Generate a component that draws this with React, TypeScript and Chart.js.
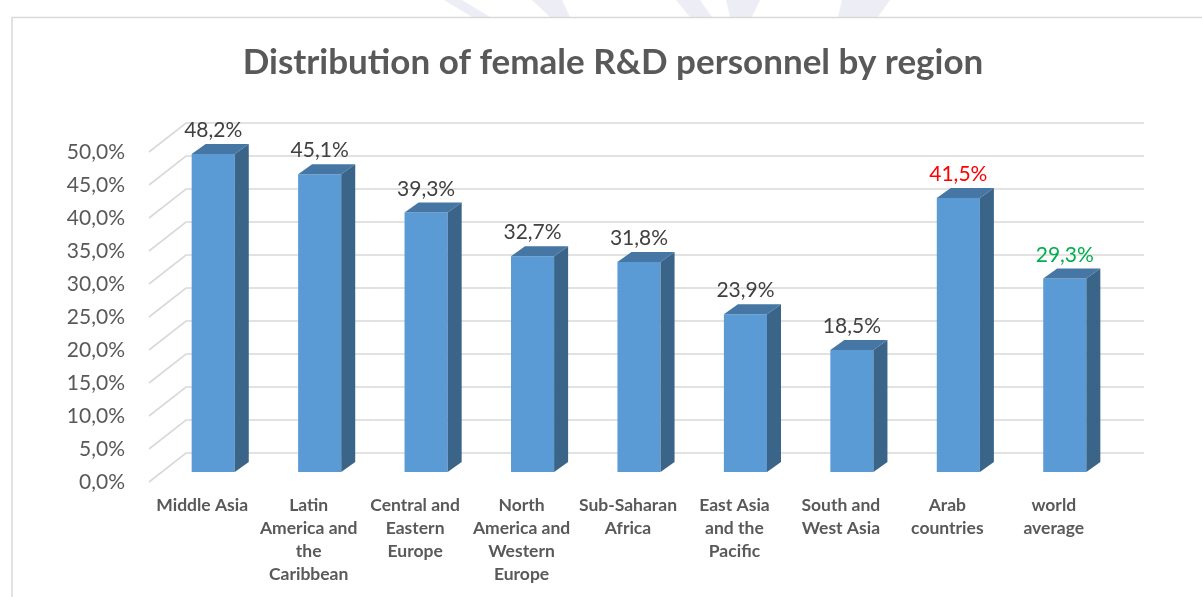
import React, { useEffect, useRef } from "react";
import { Chart, registerables } from "chart.js";

Chart.register(...registerables);

// ---- data ----
const TITLE = "Distribution of female R&D personnel by region";

const regions: string[][] = [
  ["Middle Asia"],
  ["Latin", "America and", "the", "Caribbean"],
  ["Central and", "Eastern", "Europe"],
  ["North", "America and", "Western", "Europe"],
  ["Sub-Saharan", "Africa"],
  ["East Asia", "and the", "Pacific"],
  ["South and", "West Asia"],
  ["Arab", "countries"],
  ["world", "average"],
];

const femaleShare = [48.2, 45.1, 39.3, 32.7, 31.8, 23.9, 18.5, 41.5, 29.3];

const valueLabelColors = [
  "#404040", "#404040", "#404040", "#404040", "#404040",
  "#404040", "#404040", "#FF0000", "#00B050",
];

const axisMin = 0;
const axisMax = 50;
const axisStep = 5;

// ---- look ----
const FONT = "Lato, 'Open Sans', 'DejaVu Sans', sans-serif";
const FRONT = "#5B9BD5";
const TOP = "#4676A3";
const SIDE = "#3A6488";
const GRID = "#d9d9d9";
const TEXT = "#595959";

// projection offsets of the pseudo-3D box
const WALL = { dx: 37, dy: -29 }; // back wall relative to axis plane
const FACE = { dx: 11, dy: -10 }; // bar front faces relative to axis plane
const DEPTH = { dx: 14, dy: -10 }; // bar thickness

const pct = (v: number) => v.toFixed(1).replace(".", ",") + "%";

// faint background emblem strokes above the chart card
const emblem: number[][][] = [
  [[444, 0], [462, 0], [490, 17], [472, 17]],
  [[532, 0], [562, 0], [570, 17], [550, 17]],
  [[676, 0], [700, 0], [712, 17], [690, 17]],
  [[726, 0], [760, 0], [752, 17], [730, 17]],
  [[842, 0], [890, 0], [878, 17], [838, 17]],
];

function poly(ctx: CanvasRenderingContext2D, pts: number[][]) {
  ctx.beginPath();
  ctx.moveTo(pts[0][0], pts[0][1]);
  for (let i = 1; i < pts.length; i++) ctx.lineTo(pts[i][0], pts[i][1]);
  ctx.closePath();
  ctx.fill();
}

const box3d = {
  id: "box3d",
  beforeDraw(chart: any) {
    const { ctx, width, height } = chart;
    ctx.save();
    ctx.fillStyle = "#ffffff";
    ctx.fillRect(0, 0, width, height);
    ctx.fillStyle = "#ededf5";
    emblem.forEach((p) => poly(ctx, p));
    // chart card
    ctx.fillStyle = "#ffffff";
    ctx.fillRect(12, 17.5, width, height);
    ctx.strokeStyle = GRID;
    ctx.lineWidth = 1.5;
    ctx.beginPath();
    ctx.moveTo(12, height + 2);
    ctx.lineTo(12, 17.5);
    ctx.lineTo(width + 2, 17.5);
    ctx.stroke();
    // title
    ctx.fillStyle = TEXT;
    ctx.font = `bold 35px ${FONT}`;
    ctx.textAlign = "center";
    ctx.textBaseline = "alphabetic";
    ctx.fillText(TITLE, 613, 74);
    ctx.restore();
  },
  beforeDatasetsDraw(chart: any) {
    const { ctx, chartArea } = chart;
    const y = chart.scales.y;
    ctx.save();
    ctx.strokeStyle = GRID;
    ctx.lineWidth = 1.6;
    y.ticks.forEach((t: any) => {
      const py = y.getPixelForValue(t.value);
      ctx.beginPath();
      ctx.moveTo(chartArea.left, py);
      ctx.lineTo(chartArea.left + WALL.dx, py + WALL.dy);
      ctx.lineTo(chartArea.right + WALL.dx, py + WALL.dy);
      ctx.stroke();
    });
    ctx.restore();
    // bars sit between the axis plane and the back wall
    ctx.save();
    ctx.translate(FACE.dx, FACE.dy);
  },
  afterDatasetsDraw(chart: any) {
    const { ctx } = chart;
    const meta = chart.getDatasetMeta(0);
    meta.data.forEach((bar: any) => {
      const { x, y, base, width } = bar.getProps(["x", "y", "base", "width"], true);
      const l = x - width / 2;
      const r = x + width / 2;
      ctx.fillStyle = SIDE;
      poly(ctx, [[r, y], [r + DEPTH.dx, y + DEPTH.dy], [r + DEPTH.dx, base + DEPTH.dy], [r, base]]);
      ctx.fillStyle = TOP;
      poly(ctx, [[l, y], [l + DEPTH.dx, y + DEPTH.dy], [r + DEPTH.dx, y + DEPTH.dy], [r, y]]);
    });
    ctx.restore();

    // value labels above each bar
    ctx.save();
    ctx.font = `21px ${FONT}`;
    ctx.textAlign = "center";
    ctx.textBaseline = "alphabetic";
    meta.data.forEach((bar: any, i: number) => {
      const { x, y } = bar.getProps(["x", "y"], true);
      ctx.fillStyle = valueLabelColors[i];
      ctx.fillText(pct(femaleShare[i]), x + FACE.dx, y + FACE.dy + DEPTH.dy - 7);
    });
    ctx.restore();
  },
};

export default function App() {
  const canvasRef = useRef<HTMLCanvasElement | null>(null);

  useEffect(() => {
    if (!canvasRef.current) return;
    const chart = new Chart(canvasRef.current, {
      type: "bar",
      data: {
        labels: regions,
        datasets: [
          {
            data: femaleShare,
            backgroundColor: FRONT,
            borderWidth: 0,
            barPercentage: 0.405,
            categoryPercentage: 1,
            clip: false as any,
          },
        ],
      },
      options: {
        responsive: false,
        animation: false,
        devicePixelRatio: 1,
        events: [],
        layout: {
          autoPadding: false,
          padding: { left: 0, top: 152, right: 95, bottom: 0 },
        },
        plugins: {
          legend: { display: false },
          title: { display: false },
          tooltip: { enabled: false },
        },
        scales: {
          x: {
            grid: { display: false, drawTicks: false },
            border: { display: false },
            ticks: {
              autoSkip: false,
              maxRotation: 0,
              minRotation: 0,
              padding: 12,
              color: TEXT,
              font: { family: FONT, size: 17.5, weight: "bold", lineHeight: 1.32 },
            },
            afterFit: (s: any) => {
              s.height = 115;
            },
          },
          y: {
            min: axisMin,
            max: axisMax,
            grid: { display: false, drawTicks: false },
            border: { display: false },
            ticks: {
              stepSize: axisStep,
              padding: 24,
              color: TEXT,
              font: { family: FONT, size: 21 },
              callback: (v: any) => pct(Number(v)),
            },
            afterFit: (s: any) => {
              s.width = 149;
            },
          },
        },
      },
      plugins: [box3d],
    });
    return () => chart.destroy();
  }, []);

  return (
    <div style={{ position: "fixed", left: 0, top: 0, width: 1202, height: 597, background: "#fff" }}>
      <canvas ref={canvasRef} width={1202} height={597} style={{ display: "block" }} />
    </div>
  );
}
